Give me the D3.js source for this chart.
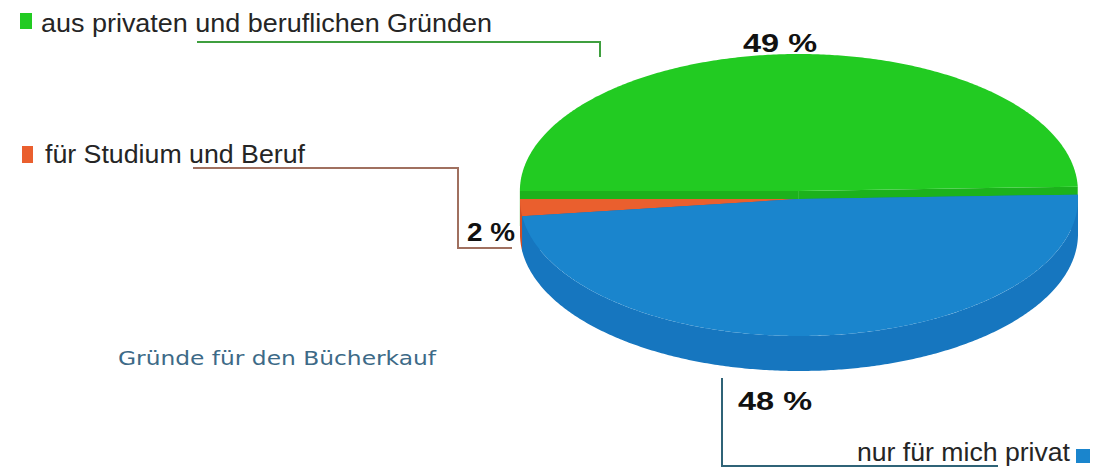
<!DOCTYPE html>
<html><head><meta charset="utf-8">
<script src="https://cdn.jsdelivr.net/npm/d3@7"></script>
<style>html,body{margin:0;padding:0;background:#fff;} svg{display:block}</style>
</head><body>
<svg id="chart" width="1093" height="469"></svg>
<script>
// ---- data ----
const categories = ["aus privaten und beruflichen Gründen", "nur für mich privat", "für Studium und Beruf"];
const values = [49, 48, 2];
const valueLabels = ["49 %", "48 %", "2 %"];
const title = "Gründe für den Bücherkauf";

// ---- styles ----
const topColors  = ["#22cb22", "#1a85cd", "#ea5f2e"];
const sideColors = ["#1cb21c", "#1676bf", "#cf4f27"];
const lineColors = ["#3f9f3f", "#2f6377", "#a0705f"];

const svg = d3.select("#chart");
const cx = 799, cy = 199, rx = 279, ry = 137, depth = 35;
const explode = [8, 0, 0];

const pie = d3.pie().sort(null).startAngle(-Math.PI / 2).endAngle(1.5 * Math.PI);
const arcs = pie(values);
const line = d3.line();

function rim(a, ox, oy, dy) { return [cx + ox + rx * Math.sin(a), cy + oy + dy - ry * Math.cos(a)]; }
function samples(a0, a1) {
  const n = Math.max(2, Math.ceil(Math.abs(a1 - a0) / 0.01));
  return d3.range(n + 1).map(i => a0 + (a1 - a0) * i / n);
}

const g = svg.append("g");
// back to front drawing order: green, orange, blue
[0, 2, 1].forEach(i => {
  const d = arcs[i];
  const mid = (d.startAngle + d.endAngle) / 2;
  const ox = explode[i] * Math.sin(mid), oy = -explode[i] * Math.cos(mid);
  const c = [cx + ox, cy + oy];
  // radial cut faces
  [d.startAngle, d.endAngle].forEach(a => {
    const p = rim(a, ox, oy, 0), q = rim(a, ox, oy, depth);
    g.append("path").attr("d", line([c, p, q, [c[0], c[1] + depth]]) + "Z")
      .attr("fill", sideColors[i]);
  });
  // outer wall (front part only)
  const b0 = Math.max(d.startAngle, Math.PI / 2), b1 = Math.min(d.endAngle, 1.5 * Math.PI);
  if (b1 > b0) {
    const s = samples(b0, b1);
    const pts = s.map(a => rim(a, ox, oy, 0)).concat(s.slice().reverse().map(a => rim(a, ox, oy, depth)));
    g.append("path").attr("d", line(pts) + "Z").attr("fill", sideColors[i]);
  }
  // top face
  const tp = [c].concat(samples(d.startAngle, d.endAngle).map(a => rim(a, ox, oy, 0)));
  g.append("path").attr("d", line(tp) + "Z").attr("fill", topColors[i]);
});

// ---- leader lines ----
const leaders = [
  [[197, 42], [600, 42], [600, 57]],
  [[722, 378], [722, 466], [998, 466]],
  [[193, 168], [458, 168], [458, 248], [512, 248]]
];
leaders.forEach((l, i) => {
  svg.append("path").attr("d", line(l)).attr("fill", "none")
    .attr("stroke", lineColors[i]).attr("stroke-width", 2);
});

// ---- legend entries ----
const legendPos = [
  {rect: [20, 13, 12, 16], tx: 41, ty: 32, len: 451},
  {rect: [1076, 449, 14, 14], tx: 857, ty: 461, len: 213},
  {rect: [22, 146, 11, 17], tx: 45, ty: 163, len: 260}
];
categories.forEach((cat, i) => {
  const p = legendPos[i];
  svg.append("rect").attr("x", p.rect[0]).attr("y", p.rect[1]).attr("width", p.rect[2]).attr("height", p.rect[3])
    .attr("fill", topColors[i]);
  svg.append("text").attr("x", p.tx).attr("y", p.ty)
    .attr("font-family", "Liberation Sans, Arial, sans-serif").attr("font-size", 25)
    .attr("fill", "#252525").attr("textLength", p.len).attr("lengthAdjust", "spacingAndGlyphs")
    .text(cat);
});

// ---- value labels ----
const labelPos = [[743, 52, 74], [738, 410, 74], [467, 241, 48]];
valueLabels.forEach((t, i) => {
  svg.append("text").attr("x", labelPos[i][0]).attr("y", labelPos[i][1])
    .attr("font-family", "Liberation Sans, Arial, sans-serif").attr("font-size", 25).attr("font-weight", "bold")
    .attr("fill", "#111").attr("textLength", labelPos[i][2]).attr("lengthAdjust", "spacingAndGlyphs")
    .text(t);
});

// ---- title ----
svg.append("text").attr("x", 118).attr("y", 365)
  .attr("font-family", "DejaVu Sans, Verdana, sans-serif").attr("font-size", 20)
  .attr("fill", "#3d6a87").attr("textLength", 318).attr("lengthAdjust", "spacingAndGlyphs")
  .text(title);
</script>
</body></html>
